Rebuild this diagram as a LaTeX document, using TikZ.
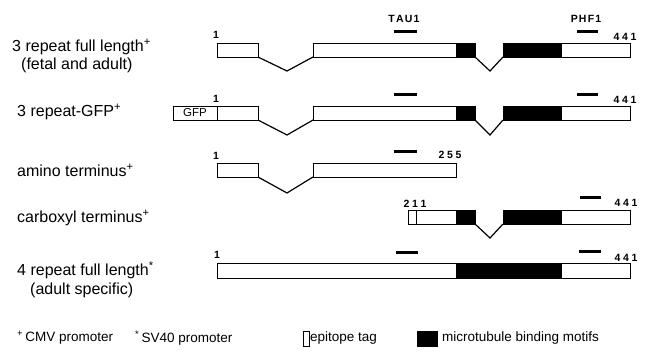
\documentclass[tikz,border=0pt]{standalone}
\usepackage{fontspec}
\setmainfont{Liberation Sans}
\newcommand\spnum[3]{#1\kern2.6pt#2\kern2.6pt#3}
\begin{document}
\begin{tikzpicture}[x=1pt,y=-1pt,
  seg/.style={draw=black, line width=0.8pt, fill=white, minimum height=14pt, inner sep=0pt, outer sep=0pt, anchor=north west},
  blk/.style={seg, fill=black},
  conn/.style={line width=1.2pt, line join=miter},
  barn/.style={fill=black, draw=none, minimum height=3pt, inner sep=0pt, outer sep=0pt, anchor=north west},
  lbl/.style={font=\fontsize{16}{19}\selectfont, inner sep=0pt, anchor=west},
  num/.style={font=\fontsize{10.5}{11}\selectfont\bfseries, inner sep=0pt},
  one/.style={font=\fontsize{10.5}{11}\selectfont\bfseries, inner sep=0pt},
  leg/.style={font=\fontsize{13.5}{16}\selectfont, inner sep=0pt, anchor=west}]
\useasboundingbox[fill=white] (0,0) rectangle (645,358);

% ---- row labels
\node[lbl] (l1) at (12,47) {3 repeat full length\textsuperscript{+}};
\node[lbl] (l1b) at (21,65) {(fetal and adult)};
\node[lbl] (l2) at (17,112) {3 repeat-GFP\textsuperscript{+}};
\node[lbl] (l3) at (17,170) {amino terminus\textsuperscript{+}};
\node[lbl] (l4) at (17,218) {carboxyl terminus\textsuperscript{+}};
\node[lbl] (l5) at (17,270) {4 repeat full length\textsuperscript{*}};
\node[lbl] (l5b) at (30,290) {(adult specific)};

% ---- antibody labels
\node[num] (tau) at (404,19) {T\kern1.2pt A\kern1.2pt U\kern1.2pt 1};
\node[num] (phf) at (586,19) {P\kern1.2pt H\kern1.2pt F\kern1.2pt 1};

% ---- row 1
\node[seg, minimum width=41pt] (r1a) at (217,43) {};
\node[seg, minimum width=143pt] (r1b) at (313,43) {};
\node[blk, minimum width=19pt] (r1c) at (456,43) {};
\node[blk, minimum width=58pt] (r1d) at (503,43) {};
\node[seg, minimum width=69pt] (r1e) at (561,43) {};
\coordinate (v11) at (287,71);
\coordinate (v12) at (490,71);
\draw[conn] (r1a.south east) -- (v11) -- (r1b.south west);
\draw[conn] (r1c.south east) -- (v12) -- (r1d.south west);
\node[barn, minimum width=23pt] (t1) at (394,30.5) {};
\node[barn, minimum width=21pt] (p1) at (577,30.5) {};
\node[one] (n1a) at (216,35) {1};
\node[num] (n1b) at (625,37) {\spnum441};

% ---- row 2
\node[seg, minimum width=44pt, font=\fontsize{11.5}{12}\selectfont] (r2g) at (173,106) {GFP};
\node[seg, minimum width=41pt] (r2a) at (217,106) {};
\node[seg, minimum width=143pt] (r2b) at (313,106) {};
\node[blk, minimum width=19pt] (r2c) at (456,106) {};
\node[blk, minimum width=58pt] (r2d) at (503,106) {};
\node[seg, minimum width=69pt] (r2e) at (561,106) {};
\coordinate (v21) at (287,135);
\coordinate (v22) at (490,135);
\draw[conn] (r2a.south east) -- (v21) -- (r2b.south west);
\draw[conn] (r2c.south east) -- (v22) -- (r2d.south west);
\node[barn, minimum width=23pt] (t2) at (394,93.5) {};
\node[barn, minimum width=21pt] (p2) at (577,93.5) {};
\node[one] (n2a) at (216,99) {1};
\node[num] (n2b) at (625,100) {\spnum441};

% ---- row 3
\node[seg, minimum width=41pt] (r3a) at (217,163) {};
\node[seg, minimum width=143pt] (r3b) at (313,163) {};
\coordinate (v31) at (287,193);
\draw[conn] (r3a.south east) -- (v31) -- (r3b.south west);
\node[barn, minimum width=23pt] (t3) at (394,150.5) {};
\node[one] (n3a) at (216,156) {1};
\node[num] (n3b) at (450,155) {\spnum255};

% ---- row 4
\node[seg, minimum width=8pt] (r4t) at (408,210) {};
\node[seg, minimum width=40pt] (r4b) at (416,210) {};
\node[blk, minimum width=19pt] (r4c) at (456,210) {};
\node[blk, minimum width=58pt] (r4d) at (503,210) {};
\node[seg, minimum width=69pt] (r4e) at (561,210) {};
\coordinate (v41) at (490,238);
\draw[conn] (r4c.south east) -- (v41) -- (r4d.south west);
\node[barn, minimum width=21pt] (p4) at (580,196.5) {};
\node[num] (n4a) at (415,204) {\spnum211};
\node[num] (n4b) at (626,203) {\spnum441};

% ---- row 5
\node[seg, minimum width=239pt, minimum height=15pt] (r5a) at (217,263) {};
\node[blk, minimum width=105pt, minimum height=15pt] (r5b) at (456,263) {};
\node[seg, minimum width=69pt, minimum height=15pt] (r5c) at (561,263) {};
\node[barn, minimum width=22pt] (t5) at (396,250.5) {};
\node[barn, minimum width=22pt] (p5) at (579,249.5) {};
\node[one] (n5a) at (217,255) {1};
\node[num] (n5b) at (626,258) {\spnum441};

% ---- legend
\node[leg] (lg1) at (17,338) {\textsuperscript{+}\,CMV promoter};
\node[leg] (lg2) at (135,338) {\textsuperscript{*}\,SV40 promoter};
\node[seg, minimum width=6pt, minimum height=15pt] (lgb1) at (303,331) {};
\node[leg] (lg3) at (310,338) {epitope tag};
\node[blk, minimum width=20pt, minimum height=15pt] (lgb2) at (417,331) {};
\node[leg] (lg4) at (442,338) {microtubule binding motifs};
\end{tikzpicture}
\end{document}
